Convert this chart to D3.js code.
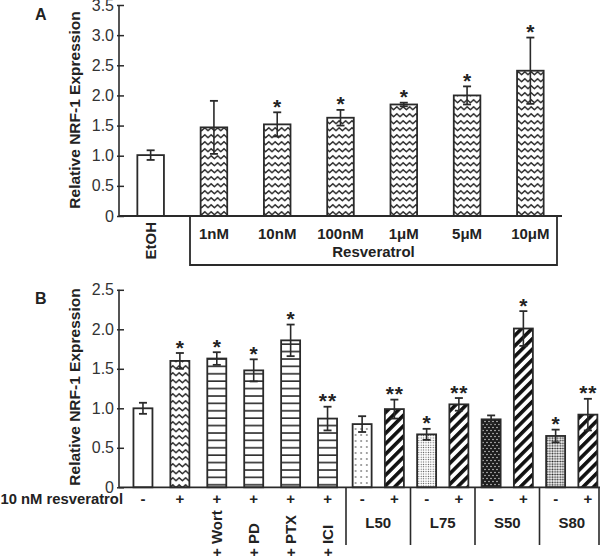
<!DOCTYPE html>
<html><head><meta charset="utf-8">
<script src="https://cdn.jsdelivr.net/npm/d3@7"></script>
<style>
html,body{margin:0;padding:0;background:#fff;}
svg{display:block;font-family:"Liberation Sans",Arial,Helvetica,sans-serif;}
</style></head>
<body>
<svg id="chart" width="600" height="556"></svg>
<script>
// ---------- data ----------
const catsA = ["EtOH","1nM","10nM","100nM","1\u03bcM","5\u03bcM","10\u03bcM"];
const valsA = [1.01,1.47,1.52,1.63,1.85,2.00,2.41];
const errA  = [0.08,0.44,0.20,0.13,0.03,0.15,0.55];
const sigA  = ["","","*","*","*","*","*"];
const ticksA = [0,0.5,1.0,1.5,2.0,2.5,3.0,3.5];

const catsB1 = ["ctrl","resv","wort","pd","ptx","ici"];
const catsB2 = ["L50-","L50+","L75-","L75+","S50-","S50+","S80-","S80+"];
const valsB = [1.00,1.60,1.63,1.48,1.86,0.87,0.80,0.99,0.67,1.05,0.86,2.01,0.65,0.92];
const errB  = [0.07,0.10,0.08,0.14,0.20,0.15,0.10,0.12,0.07,0.08,0.05,0.22,0.08,0.20];
const sigB  = ["","*","*","*","*","**","","**","*","**","","*","*","**"];
const resvB = ["-","+","+","+","+","+","-","+","-","+","-","+","-","+"];
const inhibB = ["","","+ Wort","+ PD","+ PTX","+ ICI"];
const groupsB = ["L50","L75","S50","S80"];
const ticksB = [0,0.5,1.0,1.5,2.0,2.5];

// ---------- styles ----------
const fillA = ["none","zig","zig","zig","zig","zig","zig"];
const fillB = ["none","zig","hl","hl","hl","hl","dotS","diag","dotF","diag","dotW","diag","dotD","diag"];
const INK = "#2a2a2a";

const svg = d3.select("#chart");
const defs = svg.append("defs");
function pat(id,w,h,tr){
  const p = defs.append("pattern").attr("id",id).attr("patternUnits","userSpaceOnUse")
    .attr("width",w).attr("height",h);
  if(tr) p.attr("patternTransform",tr);
  p.append("rect").attr("width",w).attr("height",h).attr("fill","#fff");
  return p;
}
let p = pat("zig",6.4,7);
p.append("path").attr("d","M-0.5,1.2 L3.2,4.8 L6.9,1.2").attr("fill","none")
  .attr("stroke",INK).attr("stroke-width",1.4).attr("stroke-linejoin","round");
p = pat("hl",4,7.4);
p.append("rect").attr("x",0).attr("y",3).attr("width",4).attr("height",1.6).attr("fill",INK);
p = pat("diag",7.4,7.4,"rotate(45)");
p.append("rect").attr("x",0).attr("y",0).attr("width",3.6).attr("height",7.4).attr("fill","#111");
p = pat("dotS",5.6,6);
p.append("circle").attr("cx",2.8).attr("cy",3).attr("r",0.8).attr("fill","#333");
p = pat("dotF",2.4,2.4);
p.append("circle").attr("cx",1.2).attr("cy",1.2).attr("r",0.6).attr("fill","#444");
p = pat("dotW",4,6);
p.select("rect").attr("fill","#1c1c1c");
p.append("circle").attr("cx",1).attr("cy",1.5).attr("r",0.75).attr("fill","#ddd");
p.append("circle").attr("cx",3).attr("cy",4.5).attr("r",0.75).attr("fill","#ddd");
p = pat("dotD",2.6,2.6);
p.append("circle").attr("cx",1.3).attr("cy",1.3).attr("r",0.95).attr("fill","#2a2a2a");

function fillUrl(k){ return k==="none" ? "#fff" : "url(#"+k+")"; }

// ---------- common helpers ----------
function yAxis(g, y, ticks){
  const ax = d3.axisLeft(y).tickValues(ticks)
    .tickFormat(d => d===0 ? "0" : d3.format(".1f")(d))
    .tickSize(-5).tickPadding(7);
  g.call(ax);
  g.select(".domain").remove();
  g.selectAll(".tick line").attr("x1",-2).attr("stroke",INK).attr("stroke-width",1.5);
  g.selectAll(".tick text").attr("font-size",16).attr("fill","#333")
    .attr("font-family","'Liberation Sans',Arial,sans-serif").attr("x",-5);
  g.append("line").attr("x1",0).attr("x2",0).attr("y1",y.range()[1]).attr("y2",y.range()[0])
    .attr("stroke",INK).attr("stroke-width",1.6);
}
function bars(g, xf, bw, y, vals, errs, sigs, fills){
  vals.forEach((v,i)=>{
    const cx = xf(i);
    g.append("rect").attr("x",cx-bw/2).attr("y",y(v)).attr("width",bw)
      .attr("height",y(0)-y(v)).attr("fill",fillUrl(fills[i]))
      .attr("stroke",INK).attr("stroke-width",1.8);
  });
  vals.forEach((v,i)=>{
    const cx = xf(i), e = errs[i];
    const t = y(v+e), b = y(v-e);
    g.append("line").attr("x1",cx).attr("x2",cx).attr("y1",t).attr("y2",b)
      .attr("stroke",INK).attr("stroke-width",1.6);
    [t,b].forEach(yy=>g.append("line").attr("x1",cx-4).attr("x2",cx+4)
      .attr("y1",yy).attr("y2",yy).attr("stroke",INK).attr("stroke-width",1.8));
    if(sigs[i]){
      const dbl = sigs[i].length > 1;
      g.append("text").attr("x",cx + (dbl ? 0.5 : 0)).attr("y",t+1.5).attr("text-anchor","middle")
        .attr("font-size",21).attr("font-weight","bold").attr("fill","#222")
        .attr("letter-spacing", dbl ? 1 : 0).text(sigs[i]);
    }
  });
}
function ytitle(cx, cy){
  svg.append("text").attr("transform",`translate(${cx},${cy}) rotate(-90)`)
    .attr("text-anchor","middle").attr("font-weight","bold").attr("font-size",15.5)
    .attr("fill","#222").text("Relative NRF-1 Expression");
}

// ---------- Panel A ----------
const yA = d3.scaleLinear().domain([0,3.5]).range([216,5]);
const xA = d3.scaleBand().domain(catsA).range([119,562]).paddingInner(0.58).paddingOuter(0.29);
const gA = svg.append("g");
bars(gA, i=>xA(catsA[i])+xA.bandwidth()/2, xA.bandwidth(), yA, valsA, errA, sigA, fillA);
gA.append("g").attr("transform","translate(119,0)").call(g=>yAxis(g,yA,ticksA));
gA.append("line").attr("x1",119).attr("x2",562).attr("y1",yA(0)).attr("y2",yA(0))
  .attr("stroke",INK).attr("stroke-width",1.8);
catsA.forEach((c,i)=>{
  const cx = xA(c)+xA.bandwidth()/2;
  if(i===0){
    gA.append("text").attr("transform",`translate(${cx+5.5},222) rotate(-90)`)
      .attr("text-anchor","end").attr("font-weight","bold").attr("font-size",15)
      .attr("fill","#222").text(c);
  } else {
    gA.append("text").attr("x",cx).attr("y",239).attr("text-anchor","middle")
      .attr("font-weight","bold").attr("font-size",15).attr("fill","#222").text(c);
  }
});
gA.append("path").attr("d","M190,217V265H557V217").attr("fill","none")
  .attr("stroke",INK).attr("stroke-width",1.8);
gA.append("text").attr("x",373.5).attr("y",257).attr("text-anchor","middle")
  .attr("font-weight","bold").attr("font-size",15).attr("fill","#222").text("Resveratrol");
svg.append("text").attr("x",35).attr("y",20).attr("font-weight","bold").attr("font-size",16)
  .attr("fill","#222").text("A");
ytitle(80,110);

// ---------- Panel B ----------
const yB = d3.scaleLinear().domain([0,2.5]).range([487.3,289.8]);
const xB1 = d3.scaleBand().domain(catsB1).range([124.5,346]).paddingInner(0.485).paddingOuter(0.2425);
const xB2 = d3.scaleBand().domain(catsB2).range([346,604]).paddingInner(0.417).paddingOuter(0.2085);
const xBc = i => i<6 ? xB1(catsB1[i])+xB1.bandwidth()/2 : xB2(catsB2[i-6])+xB2.bandwidth()/2;
const gB = svg.append("g");
bars(gB, xBc, 19, yB, valsB, errB, sigB, fillB);
gB.append("g").attr("transform","translate(119,0)").call(g=>yAxis(g,yB,ticksB));
gB.append("line").attr("x1",119).attr("x2",600).attr("y1",yB(0)).attr("y2",yB(0))
  .attr("stroke",INK).attr("stroke-width",1.8);
// separators
[0,2,4,6].forEach(k=>{
  const xs = xB2(catsB2[k]) - xB2.step()*xB2.paddingInner()/2;
  gB.append("line").attr("x1",xs).attr("x2",xs).attr("y1",yB(0)).attr("y2",545)
    .attr("stroke",INK).attr("stroke-width",1.6);
});
gB.append("line").attr("x1",599).attr("x2",599).attr("y1",yB(0)).attr("y2",545)
  .attr("stroke",INK).attr("stroke-width",1.6);
resvB.forEach((s,i)=>{
  gB.append("text").attr("x",xBc(i)).attr("y",504).attr("text-anchor","middle")
    .attr("font-weight","bold").attr("font-size",15).attr("fill","#222").text(s);
});
inhibB.forEach((s,i)=>{
  if(!s) return;
  gB.append("text").attr("transform",`translate(${xBc(i)+5.5},557) rotate(-90)`)
    .attr("text-anchor","start").attr("font-weight","bold").attr("font-size",15)
    .attr("fill","#222").text(s);
});
groupsB.forEach((s,k)=>{
  const cx = (xBc(6+2*k)+xBc(7+2*k))/2;
  gB.append("text").attr("x",cx).attr("y",528).attr("text-anchor","middle")
    .attr("font-weight","bold").attr("font-size",15).attr("fill","#222").text(s);
});
gB.append("text").attr("x",123).attr("y",504).attr("text-anchor","end")
  .attr("font-weight","bold").attr("font-size",14.8).attr("fill","#222").text("10 nM resveratrol");
svg.append("text").attr("x",35).attr("y",304).attr("font-weight","bold").attr("font-size",16)
  .attr("fill","#222").text("B");
ytitle(80,387);
</script>
</body></html>
